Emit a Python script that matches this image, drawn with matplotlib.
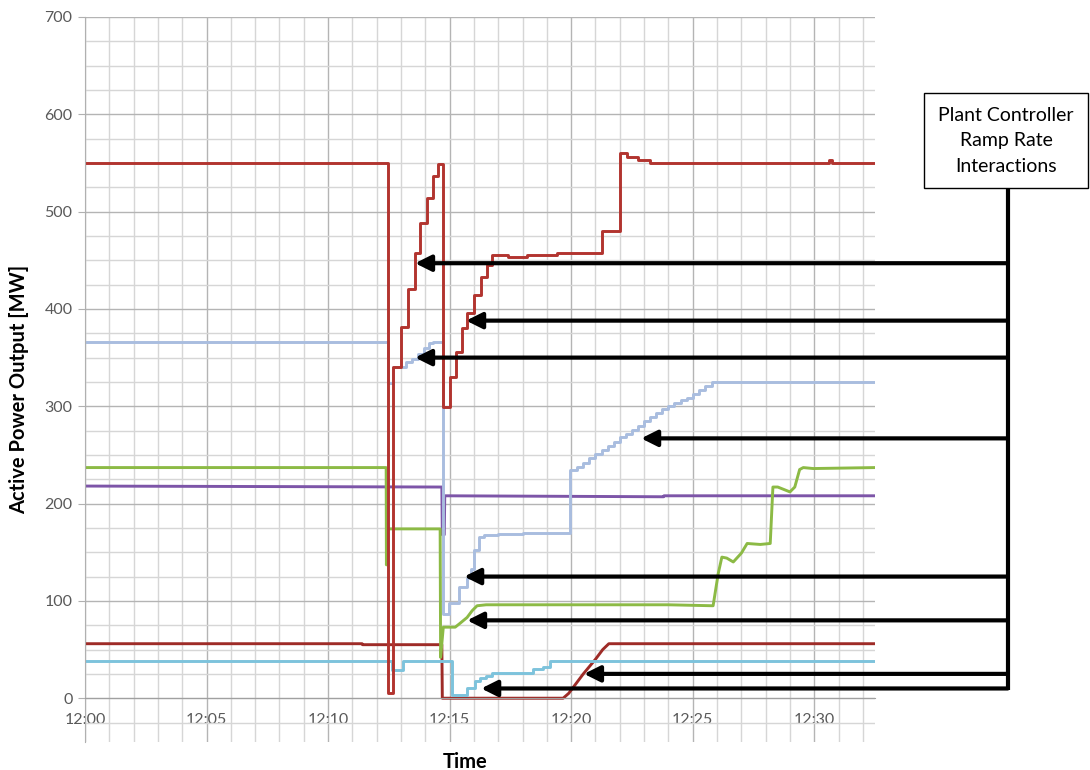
import matplotlib
matplotlib.use('Agg')
import matplotlib.pyplot as plt
import matplotlib.transforms as mtrans
from matplotlib.patches import Rectangle
from matplotlib.ticker import MultipleLocator

plt.rcParams['font.family'] = ['Lato', 'DejaVu Sans']

# minutes after 12:00, values in MW
# upper dark red unit (step data)
red_t = [0, 12.45, 12.68, 13.0, 13.29, 13.58, 13.79, 14.07, 14.32, 14.53, 14.71,
         15.02, 15.27, 15.51, 15.72, 16.01, 16.30, 16.54, 16.75, 17.4, 18.2, 19.4,
         21.28, 22.02, 22.30, 22.76, 23.25, 30.6, 30.75, 32.5]
red_v = [550, 5, 340, 381, 421, 457, 488, 514, 537, 549, 299,
         330, 356, 380, 396, 414, 433, 445, 455, 453, 455, 457,
         480, 560, 556, 553, 550, 553, 550, 550]

# light blue unit (step data)
blue_t = [0, 12.45, 12.66, 13.2, 13.45, 13.7, 13.95, 14.15, 14.3, 14.71, 14.97,
          15.37, 15.70, 15.86, 15.99, 16.22, 16.4, 17.0, 18.0, 19.96, 20.25, 20.5,
          20.75, 21.0, 21.25, 21.5, 21.75, 22.0, 22.25, 22.5, 22.75, 23.0, 23.25,
          23.5, 23.75, 24.0, 24.25, 24.5, 24.75, 25.0, 25.25, 25.5, 25.8, 32.5]
blue_v = [366, 324, 340, 345, 349, 354, 360, 365, 366, 87, 98,
          114, 124, 133, 152, 166, 168, 169, 170, 234, 238, 242,
          247, 251, 255, 259, 263, 268, 272, 276, 280, 285, 289,
          293, 297, 300, 303, 306, 309, 313, 317, 321, 325, 325]

# green unit
green_t = [0, 12.39, 12.40, 12.44, 14.61, 14.63, 14.74, 15.23, 15.43, 15.72, 15.93,
           16.13, 16.5, 20.0, 24.0, 25.84, 26.05, 26.2, 26.4, 26.67, 27.0, 27.24,
           27.78, 28.19, 28.3, 28.5, 29.0, 29.2, 29.4, 29.55, 29.96, 32.5]
green_v = [237, 237, 137, 174, 174, 42, 73, 73, 77, 83, 90,
           95, 96, 96, 96, 95, 128, 145, 144, 140, 149, 159,
           158, 159, 217, 217, 212, 217, 235, 237, 236, 237]

# purple unit
purple_t = [0, 14.68, 14.70, 14.78, 14.80, 23.8, 23.82, 32.5]
purple_v = [218, 217, 168, 168, 208, 207, 208, 208]

# lower dark red unit
red2_t = [0, 11.4, 11.42, 14.68, 14.70, 19.67, 19.9, 20.5, 21.0, 21.3, 21.55, 32.5]
red2_v = [56, 56, 55, 55, 0, 0, 5, 25, 40, 50, 56, 56]

# cyan unit (step data)
cyan_t = [0, 12.63, 13.09, 15.1, 15.72, 16.05, 16.26, 16.5, 16.75, 18.44, 18.85, 19.14, 32.5]
cyan_v = [38, 29, 38, 3, 11, 18, 21, 23, 26, 30, 32, 38, 38]

xtick_pos = [0, 5, 10, 15, 20, 25, 30]
xtick_lab = ['12:00', '12:05', '12:10', '12:15', '12:20', '12:25', '12:30']

# arrow tips (minutes, MW)
arrow_t = [13.58, 15.68, 13.58, 22.88, 15.6, 15.72, 20.53, 16.3]
arrow_mw = [447, 388, 350, 267, 125, 80, 25, 10]

fig = plt.figure(figsize=(10.9, 7.7), dpi=100)
ax = fig.add_axes([85/1090, 28/770, 790/1090, 725/770])

ax.plot(red2_t, red2_v, color='#9E2B27', lw=2.1)
ax.plot(cyan_t, cyan_v, color='#7DC3DC', lw=2.1, drawstyle='steps-post')
ax.plot(purple_t, purple_v, color='#7D55A8', lw=2.1)
ax.plot(green_t, green_v, color='#8CBA45', lw=2.1)
ax.plot(blue_t, blue_v, color='#A9BDDF', lw=2.1, drawstyle='steps-post')
ax.plot(red_t, red_v, color='#B2342F', lw=2.1, drawstyle='steps-post')

ax.set_xlim(0, 32.5)
ax.set_ylim(-45, 700)
ax.set_yticks(range(0, 701, 100))
ax.yaxis.set_minor_locator(MultipleLocator(25))
ax.set_xticks(xtick_pos)
ax.set_xticklabels(xtick_lab)
ax.xaxis.set_minor_locator(MultipleLocator(1))
ax.grid(which='major', color='#b4b4b4', lw=1)
ax.grid(which='minor', color='#d6d6d6', lw=1)
ax.set_axisbelow(True)

for s in ['top', 'right']:
    ax.spines[s].set_visible(False)
ax.spines['left'].set_color('#b0b0b0')
ax.spines['bottom'].set_position(('data', 0))
ax.spines['bottom'].set_color('#a0a0a0')
ax.tick_params(axis='y', which='major', length=5, color='#b0b0b0', labelsize=11.5,
               labelcolor='#595959', pad=4)
ax.tick_params(axis='y', which='minor', length=0)
ax.tick_params(axis='x', which='both', length=0, labelsize=11.5, labelcolor='#595959', pad=11)

fig.text(465/1090, 1 - 762/770, 'Time', ha='center', va='center', fontsize=14.5, fontweight='bold')
fig.text(19/1090, 1 - 389/770, 'Active Power Output [MW]', ha='center', va='center',
         rotation=90, fontsize=14.5, fontweight='bold')

# annotation: box, trunk and arrows
trans = mtrans.blended_transform_factory(ax.transAxes, ax.transData)
trunk_x = 1.168
box = Rectangle((1.062, 0.764), 0.208, 0.131, transform=ax.transAxes, facecolor='white',
                edgecolor='black', lw=1, clip_on=False)
ax.add_patch(box)
ax.text(1.166, 0.8295, 'Plant Controller\nRamp Rate\nInteractions', transform=ax.transAxes,
        ha='center', va='center', fontsize=14, linespacing=1.6)
ax.plot([trunk_x, trunk_x], [524, min(arrow_mw) - 2], transform=trans, color='black',
        lw=3, clip_on=False, solid_capstyle='butt')
for t, mw in zip(arrow_t, arrow_mw):
    ax.annotate('', xy=(t, mw), xycoords='data', xytext=(trunk_x, mw), textcoords=trans,
                arrowprops=dict(arrowstyle='-|>,head_length=0.8,head_width=0.4',
                                mutation_scale=12, lw=3, color='black',
                                shrinkA=0, shrinkB=0),
                annotation_clip=False)

fig.savefig('out.png', dpi=100)
